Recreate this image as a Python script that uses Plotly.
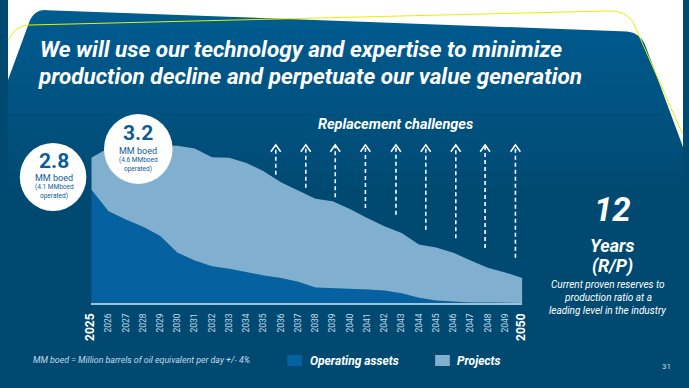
import plotly.graph_objects as go

# ---------------- data ----------------
years = list(range(2025, 2051))
operating = [2.19, 1.77, 1.61, 1.47, 1.29, 0.97, 0.82, 0.71, 0.66, 0.59, 0.53, 0.48, 0.41,
             0.30, 0.29, 0.27, 0.26, 0.24, 0.19, 0.10, 0.05, 0.03, 0.01, 0.01, 0.00, 0.00]
projects = [0.61, 1.22, 1.42, 1.57, 1.75, 2.06, 2.16, 2.10, 2.14, 2.11, 2.01, 1.85, 1.76,
            1.71, 1.67, 1.54, 1.38, 1.24, 1.16, 1.03, 1.02, 0.94, 0.81, 0.67, 0.59, 0.48]
series_names = ["Operating assets", "Projects"]
tick_labels = [str(y) for y in years]
arrow_years = [2035.7, 2037.44, 2039.15, 2040.9, 2042.67, 2044.4, 2046.14, 2047.84, 2049.6]
arrow_bottoms = [2.47, 2.22, 2.04, 1.83, 1.70, 1.41, 1.25, 1.06, 0.87]
arrow_top = 3.05

W, H = 689, 388
BG = "#004a72"
C_OP = "#0561a0"
C_PR = "#80afcf"
BUBBLE_TXT = "#0b5d97"
FONT = "Roboto"


def X(px):
    return px / W


def Y(py):
    return 1 - py / H


fig = go.Figure()
fig.add_trace(go.Scatter(x=years, y=operating, name=series_names[0], stackgroup="one",
                         mode="lines", line=dict(width=0, color=C_OP), fillcolor=C_OP,
                         hoverinfo="skip", showlegend=False))
fig.add_trace(go.Scatter(x=years, y=projects, name=series_names[1], stackgroup="one",
                         mode="lines", line=dict(width=0, color=C_PR), fillcolor=C_PR,
                         hoverinfo="skip", showlegend=False))

shapes = []
# background gradient bands in the upper panel
c0 = (0x00, 0x5c, 0x91)
c1 = (0x00, 0x4a, 0x72)
nb = 14
for i in range(nb):
    t = i / (nb - 1)
    col = "rgb(%d,%d,%d)" % tuple(round(c0[k] + (c1[k] - c0[k]) * t) for k in range(3))
    y0 = i * 200 / nb
    y1 = (i + 1) * 200 / nb + 1
    shapes.append(dict(type="rect", xref="paper", yref="paper", x0=0, x1=1,
                       y0=Y(y1), y1=Y(y0), fillcolor=col, line=dict(width=0), layer="below"))

# white region above the tilted panel
wp = ("M {a},{b} L {c},{b} L {c},{d} L {e},{f} Q {g},{h} {i},{j} L {k},{l} Q {m},{n} {o},{p} L {a},{q} Z").format(
    a=X(0), b=Y(0), c=X(689), d=Y(147), e=X(650), f=Y(44), g=X(645), h=Y(33), i=X(632), j=Y(31.5),
    k=X(40), l=Y(10.2), m=X(26), n=Y(9), o=X(21), p=Y(24), q=Y(80))
shapes.append(dict(type="path", xref="paper", yref="paper", path=wp,
                   fillcolor="white", line=dict(width=0), layer="below"))
# thin yellow line
yp = ("M {a},{b} Q {c},{d} {e},{f} L {g},{h} Q {i},{j} {k},{l} L {m},{n}").format(
    a=X(0), b=Y(40), c=X(8), d=Y(25), e=X(22), f=Y(25), g=X(612), h=Y(11), i=X(630), j=Y(10),
    k=X(638), l=Y(22), m=X(689), n=Y(135))
shapes.append(dict(type="path", xref="paper", yref="paper", path=yp,
                   line=dict(color="#e6f000", width=1), layer="below"))

# replacement arrows (dashed shafts + open chevrons)
dx_head = 5 / 17.6
dy_head = 7 / 51.9
for ax_, ab in zip(arrow_years, arrow_bottoms):
    shapes.append(dict(type="line", xref="x", yref="y", x0=ax_, x1=ax_, y0=ab, y1=arrow_top - 0.02,
                       line=dict(color="white", width=1.6, dash="4px,3px"), layer="above"))
    shapes.append(dict(type="path", xref="x", yref="y",
                       path="M {},{} L {},{} L {},{}".format(ax_ - dx_head, arrow_top - dy_head,
                                                            ax_, arrow_top,
                                                            ax_ + dx_head, arrow_top - dy_head),
                       line=dict(color="white", width=1.6), layer="above"))

# bubbles
for cx, cy, r in [(46, 177, 34), (133, 149, 35)]:
    shapes.append(dict(type="circle", xref="paper", yref="paper", x0=X(cx - r), x1=X(cx + r),
                       y0=Y(cy + r), y1=Y(cy - r), fillcolor="white", line=dict(width=0),
                       layer="above"))

# legend squares
shapes.append(dict(type="rect", xref="paper", yref="paper", x0=X(285), x1=X(300), y0=Y(366), y1=Y(355),
                   fillcolor=C_OP, line=dict(width=0)))
shapes.append(dict(type="rect", xref="paper", yref="paper", x0=X(436), x1=X(451), y0=Y(366), y1=Y(355),
                   fillcolor=C_PR, line=dict(width=0)))

ann = []


def text(px, py, s, size, color="white", xanchor="center", bold=False, italic=False, family=FONT):
    if bold:
        s = "<b>" + s + "</b>"
    if italic:
        s = "<i>" + s + "</i>"
    ann.append(dict(xref="paper", yref="paper", x=X(px), y=Y(py), text=s, showarrow=False,
                    xanchor=xanchor, yanchor="middle", font=dict(size=size, color=color, family=family)))


# title
text(31, 49, "We will use our technology and expertise to minimize", 22.5, xanchor="left", bold=True, italic=True)
text(29, 76, "production decline and perpetuate our value generation", 22.5, xanchor="left", bold=True, italic=True)

text(396, 125, "Replacement challenges", 14.5, bold=True, italic=True)

# bubble texts
text(47, 161, "2.8", 21, BUBBLE_TXT, bold=True)
text(47, 178, "MM boed", 9, BUBBLE_TXT)
text(47, 187, "(4.1 MMboed", 6.5, BUBBLE_TXT)
text(47, 196, "operated)", 6.5, BUBBLE_TXT)
text(133, 133, "3.2", 21, BUBBLE_TXT, bold=True)
text(133, 151, "MM boed", 9, BUBBLE_TXT)
text(133, 160, "(4.6 MMboed", 6.5, BUBBLE_TXT)
text(133, 169, "operated)", 6.5, BUBBLE_TXT)

# right block
text(617, 209, "12", 33, bold=True, italic=True)
text(617, 245, "Years", 18, bold=True, italic=True)
text(617, 266, "(R/P)", 18, bold=True, italic=True)
text(612, 284, "Current proven reserves to", 10, italic=True)
text(612, 297, "production ratio at a", 10, italic=True)
text(612, 310, "leading level in the industry", 10, italic=True)

# legend & footer
text(306, 361, "Operating assets", 12, xanchor="left", bold=True, italic=True)
text(456, 361, "Projects", 12, xanchor="left", bold=True, italic=True)
text(23, 360, "MM boed = Million barrels of oil equivalent per day +/- 4%", 8.8, "#c6d8e6", xanchor="left", italic=True)
text(672, 366, "31", 8, "#c6d8e6")

ticktext = []
for i, t in enumerate(tick_labels):
    if i == 0 or i == len(tick_labels) - 1:
        ticktext.append("<b><span style='font-size:12px;color:white'>" + t + "</span></b>")
    else:
        ticktext.append(t)

fig.update_layout(
    width=W, height=H, margin=dict(l=0, r=0, t=0, b=0),
    paper_bgcolor=BG, plot_bgcolor="rgba(0,0,0,0)",
    shapes=shapes, annotations=ann, showlegend=False,
    font=dict(family=FONT),
    xaxis=dict(domain=[X(85), X(525)], range=[2025, 2050], tickmode="array", tickvals=years,
               ticktext=ticktext, tickangle=-90, tickfont=dict(size=8.5, color="#c8dbe9", family=FONT),
               showgrid=False, zeroline=False, showline=True, linecolor="#9cc2dc", linewidth=2,
               ticks="outside", ticklen=5, tickcolor="rgba(0,0,0,0)", fixedrange=True),
    yaxis=dict(domain=[Y(303), Y(137)], range=[0, 3.2], visible=False, fixedrange=True),
)

fig.write_html("out.html", config={"displayModeBar": False},
               post_script="document.body.style.margin='0';document.body.style.overflow='hidden';")
